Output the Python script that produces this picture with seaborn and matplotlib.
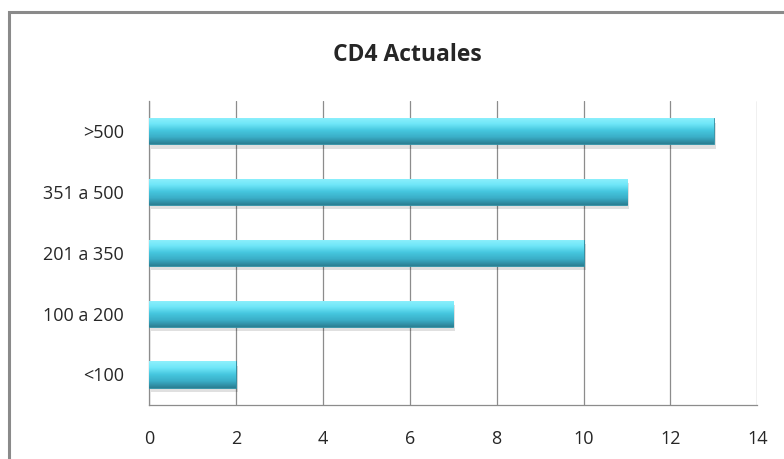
import numpy as np
import pandas as pd
import matplotlib
matplotlib.use("Agg")
import matplotlib.pyplot as plt
import seaborn as sns
from matplotlib.colors import LinearSegmentedColormap
from matplotlib.patches import Rectangle

# data
categories = [">500", "351 a 500", "201 a 350", "100 a 200", "<100"]
counts = [13, 11, 10, 7, 2]
xticks = [0, 2, 4, 6, 8, 10, 12, 14]

df = pd.DataFrame({"rango": categories, "n": counts})

sns.set_style("white")
plt.rcParams["font.family"] = ["Open Sans", "DejaVu Sans"]

fig = plt.figure(figsize=(7.84, 4.59), dpi=100)
ax = fig.add_axes([0.190, 0.118, 0.776, 0.662])

sns.barplot(data=df, x="n", y="rango", order=categories, color="#3fc0d9",
            width=0.43, orient="h", ax=ax, zorder=3,
            edgecolor="#2d8ea3", linewidth=0.6)

# gradient fill on each bar, light top to dark bottom
cmap = LinearSegmentedColormap.from_list(
    "cyan3d", ["#8ef0fc", "#6fe6f8", "#45c6de", "#3aaec7", "#2b7f93"])
grad = np.linspace(0, 1, 64).reshape(-1, 1)
for p in ax.patches:
    x0, y0 = p.get_x(), p.get_y()
    w, h = p.get_width(), p.get_height()
    # soft shadow under the bar
    ax.add_patch(Rectangle((x0 + 0.05, y0 + 0.07), w, h, color="#000000",
                           alpha=0.12, zorder=2, lw=0))
    im = ax.imshow(grad, cmap=cmap, aspect="auto",
                   extent=(x0, x0 + w, y0 + h, y0), origin="upper", zorder=4)
    im.set_clip_path(p)

ax.set_xlim(0, 14)
ax.set_ylim(4.5, -0.5)
ax.set_xticks(xticks)
ax.set_xticklabels([str(t) for t in xticks], fontsize=13)
ax.tick_params(axis="y", labelsize=13, pad=18, length=0)
ax.tick_params(axis="x", pad=18, length=0)
ax.set_xlabel("")
ax.set_ylabel("")
ax.grid(axis="x", color="#8c8c8c", lw=0.9, zorder=0)
ax.set_axisbelow(True)
for s in ["top", "right"]:
    ax.spines[s].set_visible(False)
for s in ["left", "bottom"]:
    ax.spines[s].set_color("#8c8c8c")
    ax.spines[s].set_linewidth(0.9)

fig.text(0.52, 0.88, "CD4 Actuales", ha="center", va="center",
         fontsize=16.5, fontweight="bold")

# outer chart border (cut off on the right and bottom in the original)
fig.patches.append(Rectangle((9 / 784, -0.05), 1.1, 1 - 12 / 459 + 0.05,
                             transform=fig.transFigure, fill=False,
                             edgecolor="#8a8a8a", lw=2.2))

fig.savefig("out.png", dpi=100)
